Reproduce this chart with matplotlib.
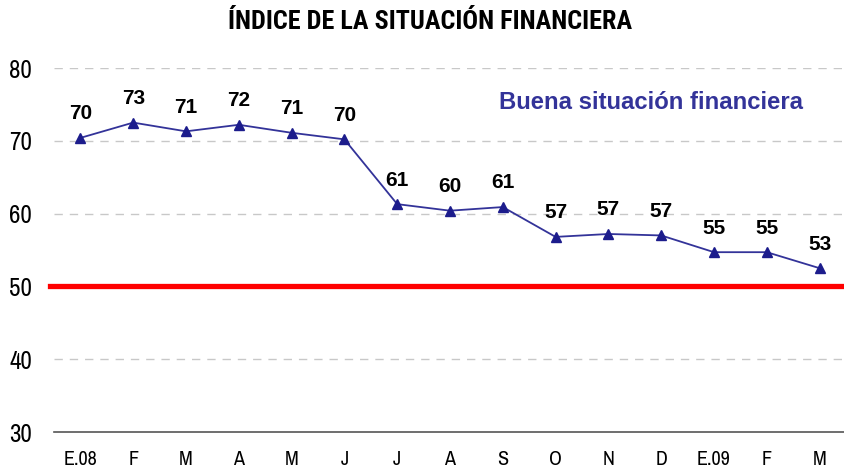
import matplotlib
matplotlib.use("Agg")
import matplotlib.pyplot as plt

months = ["E.08", "F", "M", "A", "M", "J", "J", "A", "S", "O", "N", "D", "E.09", "F", "M"]
values = [70.4, 72.5, 71.3, 72.2, 71.1, 70.2, 61.3, 60.4, 60.9, 56.8, 57.2, 57.0, 54.7, 54.7, 52.5]
labels = ["70", "73", "71", "72", "71", "70", "61", "60", "61", "57", "57", "57", "55", "55", "53"]
threshold = 50
yticks = [30, 40, 50, 60, 70, 80]
title = "ÍNDICE DE LA SITUACIÓN FINANCIERA"
note = "Buena situación financiera"

narrow = ["Archivo Narrow", "PT Sans Narrow", "DejaVu Sans"]
narrow_bold = ["Roboto Condensed", "PT Sans Narrow", "DejaVu Sans"]
plain = ["Liberation Sans", "DejaVu Sans"]

fig = plt.figure(figsize=(8.44, 4.73), dpi=100)
ax = fig.add_axes([54/844, 1-432/473, 792/844, (432-68)/473])

x = list(range(len(months)))
ax.plot(x, values, color="#333399", lw=1.3, marker="^", ms=6.5,
        markerfacecolor="#1c1c8c", markeredgecolor="#1c1c8c", zorder=4)
for xi, v, lab in zip(x, values, labels):
    ax.annotate(lab, (xi, v), xytext=(0, 10.5), textcoords="offset points",
                ha="center", va="bottom", fontsize=15, fontweight="bold",
                family=plain, color="black")

ax.axhline(threshold, xmin=-0.005, xmax=1, color="#ff0000", lw=3.8, clip_on=False, zorder=3)

ax.set_xlim(-0.5, len(months)-0.5)
ax.set_ylim(30, 80)
ax.set_yticks(yticks)
ax.set_xticks(x)
ax.set_xticklabels(months, family=narrow, fontsize=14.5)
ax.set_yticklabels([str(t) for t in yticks], family=narrow, fontsize=18)
for t in yticks:
    if t not in (30, threshold):
        ax.axhline(t, color="#c8c8c8", lw=1, ls=(0, (6, 5)), zorder=1)
ax.tick_params(axis="both", length=0)
ax.tick_params(axis="y", pad=16)
ax.tick_params(axis="x", pad=13)
for s in ["left", "right", "top"]:
    ax.spines[s].set_visible(False)
ax.spines["bottom"].set_color("#555555")
ax.spines["bottom"].set_linewidth(1.2)

ax.text(0.754, 0.904, note, transform=ax.transAxes, ha="center", va="center",
        fontsize=17.2, fontweight="bold", family=plain, color="#333399")

fig.text(430/844, 1-22/473, title, ha="center", va="center", fontsize=18.8,
         fontweight="semibold", family=narrow_bold)

fig.savefig("out.png", dpi=100)
